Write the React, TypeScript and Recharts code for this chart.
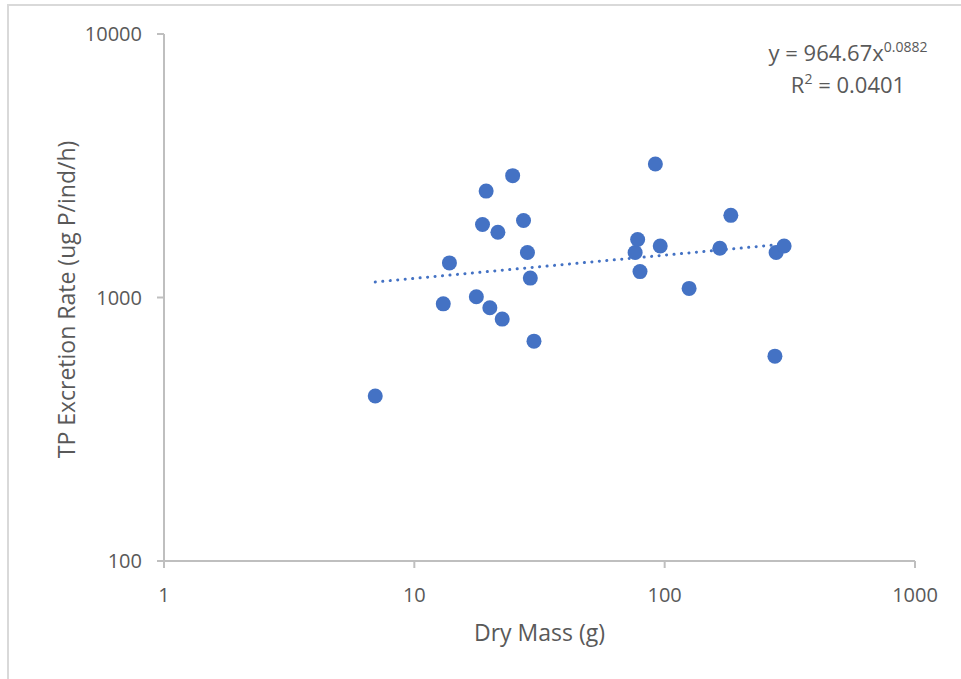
import React from 'react';
import { ScatterChart, Scatter, XAxis, YAxis, ReferenceLine } from 'recharts';

const dryMass = [6.98, 13.05, 13.81, 17.69, 18.72, 19.36, 20.03, 21.57, 22.44, 24.7, 27.3, 28.3, 29.06, 30.06, 76.2, 78.0, 79.7, 91.8, 96.0, 125.2, 166.1, 183.8, 275.7, 278.8, 300];
const tpRate = [423, 946, 1353, 1007, 1892, 2534, 914, 1769, 828, 2900, 1959, 1482, 1185, 683, 1482, 1660, 1254, 3213, 1569, 1083, 1538, 2050, 599, 1482, 1569];
const xTicks = [1, 10, 100, 1000];
const yTicks = [100, 1000, 10000];
const trendX = [6.98, 300];
const trendY = [1145, 1595];

const xTitle = 'Dry Mass (g)';
const yTitle = 'TP Excretion Rate (ug P/ind/h)';
const eqMain = 'y = 964.67x';
const eqExp = '0.0882';
const r2Text = '0.0401';

const points = dryMass.map((x, i) => ({ x, y: tpRate[i] }));

const FONT = '"Open Sans", sans-serif';
const TEXT = '#595959';
const AXIS = '#bfbfbf';
const BLUE = '#4472C4';

const Dot = (props: any) => {
  const { cx, cy } = props;
  if (cx == null || cy == null) return null;
  return <circle cx={cx} cy={cy} r={7.5} fill={BLUE} />;
};

const YTitle = (props: any) => {
  const vb = props.viewBox || {};
  const cx = 66;
  const cy = vb.y + vb.height / 2 + 2;
  return (
    <text
      x={cx}
      y={cy}
      transform={`rotate(-90, ${cx}, ${cy})`}
      textAnchor="middle"
      dominantBaseline="central"
      fill={TEXT}
      fontSize={23}
      fontFamily={FONT}
    >
      {yTitle}
    </text>
  );
};

export default function App() {
  return (
    <div style={{ position: 'absolute', left: 0, top: 0, width: 961, height: 679, background: '#fff', overflow: 'hidden' }}>
      <div style={{ position: 'absolute', left: 7, top: 4, width: 960, height: 700, borderTop: '2px solid #d9d9d9', borderLeft: '2px solid #d9d9d9' }} />
      <ScatterChart width={961} height={679} margin={{ top: 34, right: 46, bottom: 0, left: 0 }}>
        <XAxis
          type="number"
          dataKey="x"
          scale="log"
          domain={[1, 1000]}
          ticks={xTicks}
          allowDataOverflow
          height={118}
          stroke={AXIS}
          strokeWidth={2}
          tickSize={7}
          tickMargin={20}
          tick={{ fill: TEXT, fontSize: 20, fontFamily: FONT }}
          tickLine={{ stroke: AXIS, strokeWidth: 2 }}
          label={{ value: xTitle, position: 'insideBottom', offset: 38, fill: TEXT, fontSize: 23, fontFamily: FONT }}
        />
        <YAxis
          type="number"
          dataKey="y"
          scale="log"
          domain={[100, 10000]}
          ticks={yTicks}
          allowDataOverflow
          width={164}
          stroke={AXIS}
          strokeWidth={2}
          tickSize={7}
          tickMargin={15}
          tick={{ fill: TEXT, fontSize: 20, fontFamily: FONT }}
          tickLine={{ stroke: AXIS, strokeWidth: 2 }}
          label={{ content: YTitle }}
        />
        <ReferenceLine
          segment={[{ x: trendX[0], y: trendY[0] }, { x: trendX[1], y: trendY[1] }]}
          stroke={BLUE}
          strokeWidth={3}
          strokeDasharray="0.1 7.4"
          strokeLinecap="round"
          ifOverflow="visible"
        />
        <Scatter data={points} fill={BLUE} shape={Dot} isAnimationActive={false} />
      </ScatterChart>
      <svg style={{ position: 'absolute', left: 0, top: 0, pointerEvents: 'none' }} width={961} height={679}>
        <text x={848} y={61} textAnchor="middle" fill={TEXT} fontFamily={FONT} fontSize={22}>
          <tspan>{eqMain}</tspan>
          <tspan fontSize={14} dy={-9}>{eqExp}</tspan>
        </text>
        <text x={848} y={93} textAnchor="middle" fill={TEXT} fontFamily={FONT} fontSize={22}>
          <tspan>R</tspan>
          <tspan fontSize={14} dy={-9}>2</tspan>
          <tspan dy={9}>{' = ' + r2Text}</tspan>
        </text>
      </svg>
    </div>
  );
}
